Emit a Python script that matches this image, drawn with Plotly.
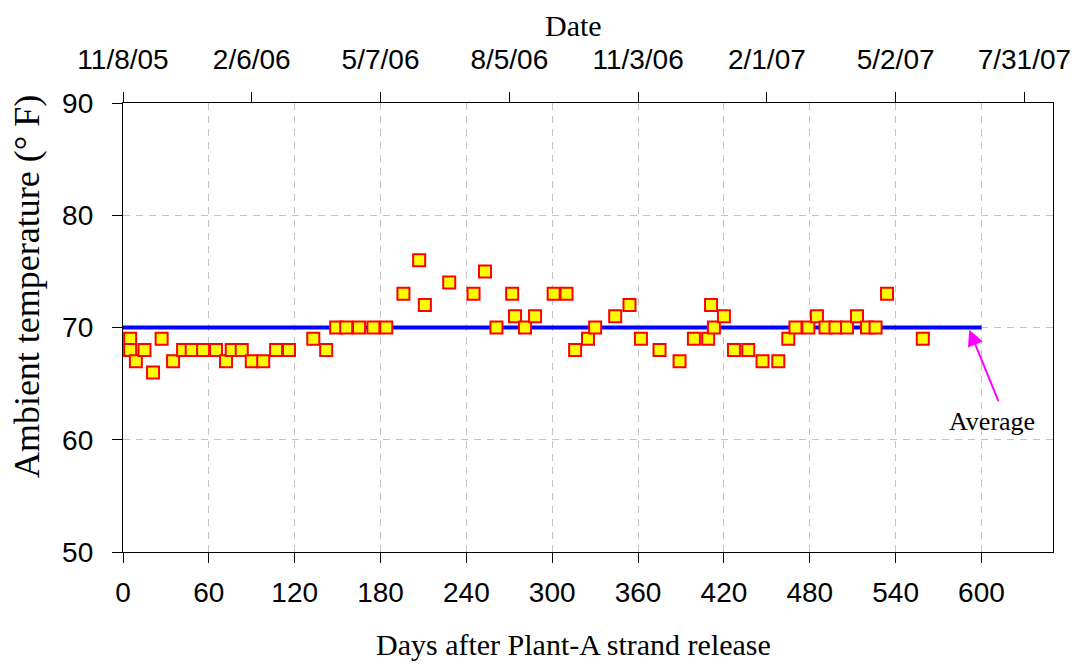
import plotly.graph_objects as go

# Measured ambient temperature readings
days = [0, 1, 5, 5, 9, 15, 21, 27, 35, 42, 48, 56, 65, 72, 76, 83, 90, 98, 107, 116,
        133, 142, 149, 156, 165, 175, 184, 196, 207, 211, 228, 245, 253, 261, 272, 274,
        281, 288, 301, 310, 316, 325, 330, 344, 354, 362, 375, 389, 399, 409, 411, 413,
        420, 427, 437, 447, 458, 465, 470, 479, 485, 491, 498, 506, 513, 520, 526, 534, 559]
temps = [68, 68, 69, 68, 67, 68, 66, 69, 67, 68, 68, 68, 68, 67, 68, 68, 67, 67, 68, 68,
         69, 68, 70, 70, 70, 70, 70, 73, 76, 72, 74, 73, 75, 70, 73, 71,
         70, 71, 73, 73, 68, 69, 70, 71, 72, 69, 68, 67, 69, 69, 72, 70,
         71, 68, 68, 67, 67, 69, 70, 70, 71, 70, 70, 70, 71, 70, 70, 73, 69]

# Average line
avg_days = [0, 600]
avg_temp = [70, 70]

# Top (date) axis
date_days = [0, 90, 180, 270, 360, 450, 540, 630]
date_labels = ["11/8/05", "2/6/06", "5/7/06", "8/5/06", "11/3/06", "2/1/07", "5/2/07", "7/31/07"]

SANS = "Liberation Sans, Arial, sans-serif"
SERIF = "Liberation Serif, Times New Roman, serif"

fig = go.Figure()

fig.add_trace(go.Scatter(x=avg_days, y=avg_temp, mode="lines",
                         line=dict(color="#0000FF", width=4), hoverinfo="skip"))
fig.add_trace(go.Scatter(x=days, y=temps, mode="markers",
                         marker=dict(symbol="square", size=12, color="#FFFF00",
                                     line=dict(color="#FF0000", width=2))))
# empty trace so the top axis gets drawn
fig.add_trace(go.Scatter(x=date_days, y=[None] * len(date_days), xaxis="x2",
                         mode="markers", hoverinfo="skip"))

axis_common = dict(showline=True, linecolor="black", linewidth=1.3, automargin=False,
                   ticks="outside", ticklen=10, tickcolor="black", tickwidth=1.3,
                   zeroline=False, tickfont=dict(family=SANS, size=28, color="black"))
grid = dict(showgrid=True, gridcolor="#c4c4c4", griddash="7px,6px", gridwidth=1)

# page body adds an 8px offset, so the figure is 8px smaller than the window
fig.update_layout(
    width=1073, height=659,
    margin=dict(l=115, r=28, t=95, b=115),
    plot_bgcolor="white", paper_bgcolor="white",
    showlegend=False,
    xaxis=dict(range=[0, 650], tick0=0, dtick=60, mirror=True, ticklabelstandoff=5,
               **grid, **axis_common),
    xaxis2=dict(range=[0, 650], overlaying="x", side="top", anchor="y",
                tickmode="array", tickvals=date_days, ticktext=date_labels,
                showgrid=False, ticklabelstandoff=12, **axis_common),
    yaxis=dict(range=[50, 90], tick0=50, dtick=10, mirror=True, ticklabelstandoff=13,
               **grid, **axis_common),
)

# axis titles
title_font = dict(family=SERIF, size=30, color="black")
fig.add_annotation(x=0.484, y=1.1737, xref="paper", yref="paper", text="Date",
                   xanchor="center", yanchor="middle", showarrow=False, font=title_font)
fig.add_annotation(x=0.484, y=-0.207, xref="paper", yref="paper",
                   text="Days after Plant-A strand release",
                   xanchor="center", yanchor="middle", showarrow=False, font=title_font)
fig.add_annotation(x=-0.1032, y=0.59, xref="paper", yref="paper",
                   text="Ambient temperature (° F)", textangle=-90,
                   xanchor="center", yanchor="middle", showarrow=False,
                   font=dict(family=SERIF, size=36, color="black"))

fig.add_annotation(x=591.5, y=69.8, ax=612.3, ay=63.3, axref="x", ayref="y",
                   text="", showarrow=True, arrowhead=2, arrowsize=1.6,
                   arrowwidth=2, arrowcolor="#FF00FF")
fig.add_annotation(x=607.5, y=61.6, text="Average", showarrow=False,
                   font=dict(family=SERIF, size=26, color="black"))

fig.write_html("out.html")
